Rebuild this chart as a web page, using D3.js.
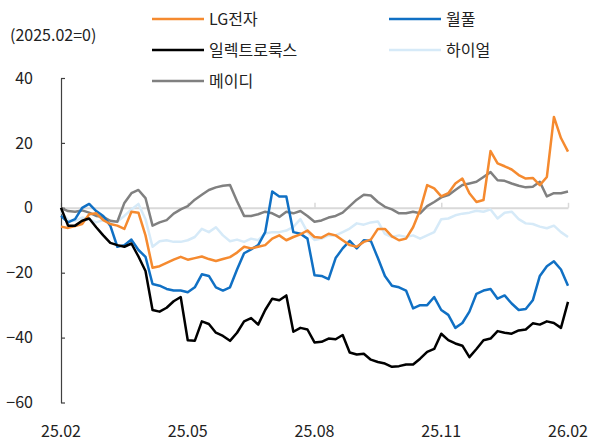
<!DOCTYPE html>
<meta charset="utf-8">
<body style="margin:0;background:#fff;">
<svg width="595" height="441"></svg>
</body>
<script src="https://cdn.jsdelivr.net/npm/d3@7"></script>
<script>
    // 2025.02 = 0 기준 누적 변화(%), 1/6개월 간격
    let seriesNames = ['LG전자', '월풀', '일렉트로룩스', '하이얼', '메이디'];
    let monthTicks = [0, 3, 6, 9, 12];
    let tickLabels = ['25.02', '25.05', '25.08', '25.11', '26.02'];
    let yTicks = [40, 20, 0, -20, -40, -60];

    let lg = [-5.8, -6.2, -5.6, -5.0, -2.0, -1.7, -3.8, -5.0, -5.5, -6.5, -1.2, -1.5, -8.5,
        -18.5, -18.0, -17.0, -16.0, -15.1, -16.0, -15.5, -15.0, -15.8, -16.4, -15.8, -15.2,
        -13.8, -12.0, -12.5, -12.0, -11.5, -9.5, -8.5, -10.0, -9.0, -8.2, -7.0, -9.0,
        -9.2, -8.0, -8.5, -10.0, -11.5, -12.0, -10.5, -9.8, -6.5, -6.5, -8.8, -10.0,
        -9.5, -6.0, -0.7, 7.0, 6.0, 3.5, 4.5, 7.5, 9.0, 4.5, 1.8, 2.4,
        17.5, 13.7, 12.8, 11.8, 10.1, 9.0, 9.2, 7.0, 9.5, 28.0, 21.5, 17.3];
    let whirlpool = [-2.5, -4.5, -3.5, 0.0, 1.2, -1.0, -2.5, -5.5, -12.0, -11.5, -9.8, -13.0, -15.1,
        -23.5, -24.0, -25.0, -25.5, -25.5, -26.0, -24.5, -20.5, -21.0, -24.5, -25.5, -24.5,
        -19.0, -14.0, -12.8, -11.5, -7.5, 5.0, 3.5, 3.5, -7.5, -8.0, -9.5, -20.8,
        -21.0, -22.0, -15.5, -12.5, -10.2, -12.5, -10.0, -10.2, -15.5, -21.0, -24.0, -24.5,
        -25.5, -31.0, -30.0, -30.0, -27.5, -31.5, -33.0, -37.0, -35.5, -32.0, -26.5, -25.5,
        -25.0, -28.0, -27.0, -29.5, -31.5, -31.2, -28.5, -21.0, -18.0, -16.5, -19.0, -24.0];
    let electrolux = [0.0, -5.5, -5.5, -4.0, -3.3, -6.0, -8.5, -10.8, -11.5, -12.0, -11.0, -15.0, -19.5,
        -31.5, -32.0, -30.8, -28.8, -27.5, -40.8, -41.0, -35.0, -35.8, -38.5, -39.5, -41.0,
        -38.5, -35.0, -34.0, -36.0, -31.5, -28.0, -28.5, -27.0, -38.2, -37.0, -37.5, -41.5,
        -41.3, -40.3, -40.5, -39.2, -44.6, -45.2, -45.0, -46.8, -47.5, -48.0, -49.0, -48.8,
        -48.3, -48.3, -46.5, -44.4, -43.5, -38.8, -40.8, -41.8, -42.5, -46.0, -43.5, -40.8,
        -40.3, -38.0, -38.5, -38.8, -37.8, -37.5, -35.6, -36.0, -35.0, -35.5, -37.0, -29.0];
    let haier = [-1.2, -3.8, -4.0, -3.0, -3.5, -4.5, -3.8, -4.5, -4.2, -2.5, -0.5, 1.2, -3.5,
        -12.0, -10.3, -10.0, -10.5, -10.5, -10.0, -9.0, -6.5, -7.5, -6.0, -8.5, -10.3,
        -9.8, -10.5, -9.5, -10.0, -7.9, -7.5, -7.5, -7.0, -5.9, -3.5, -7.5, -9.9,
        -9.5, -8.5, -8.5, -7.5, -6.4, -4.8, -5.2, -4.5, -4.2, -8.0, -9.0, -8.5,
        -9.0, -8.5, -9.5, -8.5, -7.5, -3.5, -3.3, -2.3, -1.8, -1.5, -0.9, -1.2,
        -0.5, -3.3, -1.5, -1.2, -3.5, -4.8, -5.0, -5.8, -6.3, -5.5, -7.5, -9.0];
    let midea = [0.0, -1.0, -1.2, -0.8, -1.5, -2.5, -2.8, -4.0, -4.3, 1.5, 4.5, 5.5, 3.0,
        -5.5, -4.5, -3.8, -1.8, -0.5, 0.5, 2.5, 4.0, 5.5, 6.3, 6.8, 7.0,
        2.0, -2.5, -2.5, -2.0, -1.2, -1.7, -2.8, -1.2, -1.7, -1.0, -2.5, -4.3,
        -3.9, -3.0, -2.5, -1.5, 0.5, 2.5, 4.0, 3.8, 1.8, 0.3, -0.5, -1.7,
        -1.7, -1.2, -1.7, 0.5, 1.8, 3.2, 3.9, 5.5, 7.0, 7.5, 8.0, 9.5,
        11.0, 8.5, 8.3, 7.5, 6.8, 6.3, 6.5, 8.0, 3.5, 4.5, 4.5, 5.0];

    let svg = d3.select('svg'),
        font = '"Noto Sans CJK KR", "Noto Sans", sans-serif';

    let x = d3.scaleLinear().domain([0, 12]).range([61, 568]);
    let y = d3.scaleLinear().domain([-60, 40]).range([402.5, 78]);

    let colors = {
        'LG전자': '#F58A2F',
        '월풀': '#1070C4',
        '일렉트로룩스': '#000000',
        '하이얼': '#D6EAF8',
        '메이디': '#808080'
    };
    let values = {
        'LG전자': lg,
        '월풀': whirlpool,
        '일렉트로룩스': electrolux,
        '하이얼': haier,
        '메이디': midea
    };

    // 0 기준선 + 위로 짧은 눈금
    let zeroAxis = svg.append('g')
        .attr('transform', `translate(0,${y(0)})`)
        .call(d3.axisTop(x).tickValues(monthTicks).tickSize(5).tickSizeOuter(0).tickFormat(''));
    zeroAxis.select('.domain').attr('stroke', '#D9D9D9').attr('stroke-width', 2);
    zeroAxis.selectAll('.tick line').attr('stroke', '#D9D9D9').attr('stroke-width', 1.5);

    // y축
    let yAxis = svg.append('g')
        .attr('transform', `translate(${x(0)},0)`)
        .call(d3.axisLeft(y).tickValues(yTicks).tickSizeInner(-4).tickSizeOuter(0).tickPadding(28));
    yAxis.select('.domain').attr('stroke', '#404040').attr('stroke-width', 1.2);
    yAxis.selectAll('.tick line').attr('stroke', '#404040').attr('stroke-width', 1.2);
    yAxis.selectAll('.tick text')
        .attr('font-family', font).attr('font-size', 16).attr('fill', '#222');

    // x축 라벨 (하단)
    svg.append('g').selectAll('text')
        .data(monthTicks)
        .join('text')
        .attr('x', d => x(d))
        .attr('y', 432)
        .attr('dy', '0.32em')
        .attr('text-anchor', 'middle')
        .attr('font-family', font).attr('font-size', 16).attr('fill', '#222')
        .text((d, i) => tickLabels[i]);

    // 라인
    let line = d3.line()
        .x((d, i) => x(i / 6))
        .y(d => y(d));
    let drawOrder = ['하이얼', '메이디', '월풀', 'LG전자', '일렉트로룩스'];
    svg.append('g').selectAll('path')
        .data(drawOrder)
        .join('path')
        .attr('d', d => line(values[d]))
        .attr('fill', 'none')
        .attr('stroke', d => colors[d])
        .attr('stroke-width', 2.5)
        .attr('stroke-linejoin', 'round');

    // 단위
    svg.append('text')
        .attr('x', 10).attr('y', 41)
        .attr('font-family', font).attr('font-size', 16).attr('fill', '#222')
        .text('(2025.02=0)');

    // 범례
    let legendPos = [[152, 19], [389, 19], [152, 50], [389, 50], [152, 81]];
    let legend = svg.append('g').selectAll('g')
        .data(seriesNames)
        .join('g')
        .attr('transform', (d, i) => `translate(${legendPos[i][0]},${legendPos[i][1]})`);
    legend.append('line')
        .attr('x1', 0).attr('x2', 52)
        .attr('stroke', d => colors[d])
        .attr('stroke-width', 2.5);
    legend.append('text')
        .attr('x', 57).attr('y', 6)
        .attr('font-family', font).attr('font-size', 16).attr('fill', '#222')
        .text(d => d);
</script>
